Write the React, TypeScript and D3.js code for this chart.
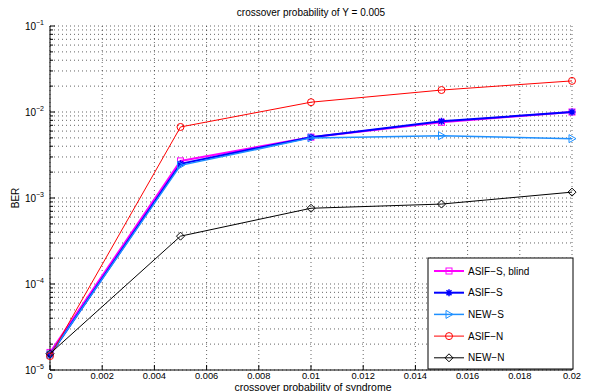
import React, { useEffect, useRef } from 'react';
import * as d3 from 'd3';

const xValues = [0, 0.005, 0.01, 0.015, 0.02];
const xTicks = [0, 0.002, 0.004, 0.006, 0.008, 0.01, 0.012, 0.014, 0.016, 0.018, 0.02];
const yDecades = [-5, -4, -3, -2, -1];

const asifSBlind = [1.6e-5, 2.7e-3, 5.1e-3, 7.6e-3, 1.0e-2];
const asifS = [1.5e-5, 2.5e-3, 5.1e-3, 7.8e-3, 1.0e-2];
const newS = [1.5e-5, 2.4e-3, 5.0e-3, 5.3e-3, 4.9e-3];
const asifN = [1.45e-5, 6.7e-3, 1.3e-2, 1.8e-2, 2.3e-2];
const newN = [1.55e-5, 3.6e-4, 7.6e-4, 8.5e-4, 1.17e-3];

interface Series {
    name: string;
    values: number[];
    color: string;
    width: number;
    marker: string;
}

const series: Series[] = [
    { name: 'ASIF\u2212S, blind', values: asifSBlind, color: '#ff00ff', width: 2, marker: 'square' },
    { name: 'ASIF\u2212S', values: asifS, color: '#0000ff', width: 2, marker: 'star' },
    { name: 'NEW\u2212S', values: newS, color: '#1e90ff', width: 1.5, marker: 'tri' },
    { name: 'ASIF\u2212N', values: asifN, color: '#ff0000', width: 1, marker: 'circle' },
    { name: 'NEW\u2212N', values: newN, color: '#000000', width: 1, marker: 'diamond' },
];

const font = 'Liberation Sans, Arial, sans-serif';

const App: React.FC = () => {
    const ref = useRef<SVGSVGElement>(null);

    useEffect(() => {
        const svg = d3.select(ref.current);
        svg.selectAll('*').remove();

        const left = 50, right = 572, top = 26, bottom = 370;
        const x = d3.scaleLinear().domain([0, 0.02]).range([left, right]);
        const y = d3.scaleLog().domain([1e-5, 1e-1]).range([bottom, top]);

        svg.append('rect').attr('width', 590).attr('height', 391).attr('fill', '#fff');

        // grid
        const grid = svg.append('g').attr('stroke', '#222').attr('stroke-width', 0.7)
            .attr('stroke-dasharray', '1,3');
        xTicks.forEach(t => {
            grid.append('line').attr('x1', x(t)).attr('x2', x(t)).attr('y1', top).attr('y2', bottom);
        });
        yDecades.forEach(d => {
            for (let k = 1; k <= 9; k++) {
                const v = k * Math.pow(10, d);
                if (d === -1 && k > 1) continue;
                grid.append('line').attr('x1', left).attr('x2', right).attr('y1', y(v)).attr('y2', y(v));
            }
        });

        // axes
        const ax = svg.append('g').attr('stroke', '#000').attr('stroke-width', 1);
        ax.append('line').attr('x1', left).attr('x2', left).attr('y1', top).attr('y2', bottom);
        ax.append('line').attr('x1', left).attr('x2', right).attr('y1', bottom).attr('y2', bottom);
        xTicks.forEach(t => {
            ax.append('line').attr('x1', x(t)).attr('x2', x(t)).attr('y1', bottom).attr('y2', bottom - 5);
        });
        yDecades.forEach(d => {
            for (let k = 1; k <= 9; k++) {
                const v = k * Math.pow(10, d);
                if (d === -1 && k > 1) continue;
                const len = k === 1 ? 5 : 3;
                ax.append('line').attr('x1', left).attr('x2', left + len).attr('y1', y(v)).attr('y2', y(v));
            }
        });

        svg.selectAll('.xt').data(xTicks).enter().append('text')
            .attr('x', d => x(d)).attr('y', bottom + 9)
            .attr('text-anchor', 'middle').attr('font-family', font).attr('font-size', 9.3)
            .text(d => d === 0 ? '0' : d3.format('~g')(+d.toFixed(3)));

        yDecades.forEach(d => {
            const t = svg.append('text').attr('x', left - 6).attr('y', y(Math.pow(10, d)) + 4)
                .attr('text-anchor', 'end').attr('font-family', font).attr('font-size', 10);
            t.append('tspan').text('10');
            t.append('tspan').attr('dy', -5).attr('font-size', 7).text('\u2212' + Math.abs(d));
        });

        svg.append('text').attr('x', 311).attr('y', 16).attr('text-anchor', 'middle')
            .attr('font-family', font).attr('font-size', 10).text('crossover probability of Y = 0.005');
        svg.append('text').attr('x', 313).attr('y', 390.5).attr('text-anchor', 'middle')
            .attr('font-family', font).attr('font-size', 10.5).text('crossover probability of syndrome');
        svg.append('text').attr('transform', `translate(19,${(top + bottom) / 2}) rotate(-90)`)
            .attr('text-anchor', 'middle').attr('font-family', font).attr('font-size', 10).text('BER');

        const drawMarker = (g: d3.Selection<SVGGElement, unknown, null, undefined>, s: Series, cx: number, cy: number) => {
            const c = s.color;
            if (s.marker === 'square') {
                g.append('rect').attr('x', cx - 3).attr('y', cy - 3).attr('width', 6).attr('height', 6)
                    .attr('fill', 'none').attr('stroke', c).attr('stroke-width', 1);
            } else if (s.marker === 'star') {
                g.append('path').attr('stroke', c).attr('stroke-width', 1.5).attr('fill', 'none')
                    .attr('d', `M${cx - 3.5},${cy}H${cx + 3.5}M${cx},${cy - 3.5}V${cy + 3.5}M${cx - 2.5},${cy - 2.5}L${cx + 2.5},${cy + 2.5}M${cx - 2.5},${cy + 2.5}L${cx + 2.5},${cy - 2.5}`);
            } else if (s.marker === 'tri') {
                g.append('path').attr('d', `M${cx - 3},${cy - 4}L${cx + 4},${cy}L${cx - 3},${cy + 4}Z`)
                    .attr('fill', 'none').attr('stroke', c).attr('stroke-width', 1);
            } else if (s.marker === 'circle') {
                g.append('circle').attr('cx', cx).attr('cy', cy).attr('r', 3.5)
                    .attr('fill', 'none').attr('stroke', c).attr('stroke-width', 1);
            } else {
                g.append('path').attr('d', `M${cx},${cy - 4}L${cx + 4},${cy}L${cx},${cy + 4}L${cx - 4},${cy}Z`)
                    .attr('fill', 'none').attr('stroke', c).attr('stroke-width', 1);
            }
        };

        const line = d3.line<number>().x((_, i) => x(xValues[i])).y(d => y(d));

        series.forEach(s => {
            const g = svg.append('g');
            g.append('path').attr('d', line(s.values) as string).attr('fill', 'none')
                .attr('stroke', s.color).attr('stroke-width', s.width);
            s.values.forEach((v, i) => drawMarker(g, s, x(xValues[i]), y(v)));
        });

        // legend
        const lg = svg.append('g');
        lg.append('rect').attr('x', 428).attr('y', 258).attr('width', 145).attr('height', 111)
            .attr('fill', '#fff').attr('stroke', '#000').attr('stroke-width', 1);
        series.forEach((s, i) => {
            const ly = 271 + i * 21.7;
            lg.append('line').attr('x1', 434).attr('x2', 464).attr('y1', ly).attr('y2', ly)
                .attr('stroke', s.color).attr('stroke-width', s.width);
            drawMarker(lg, s, 449, ly);
            lg.append('text').attr('x', 468).attr('y', ly + 3.5).attr('font-family', font)
                .attr('font-size', 10).text(s.name);
        });
    }, []);

    return <svg ref={ref} width={590} height={391} style={{ position: 'absolute', left: 0, top: 0 }}></svg>;
};

export default App;
